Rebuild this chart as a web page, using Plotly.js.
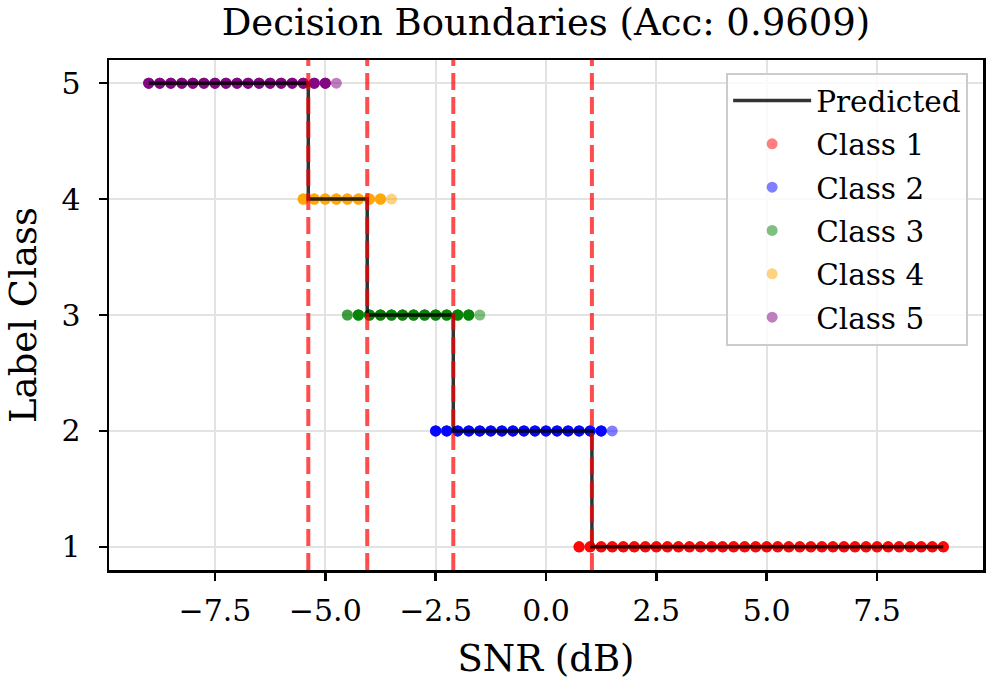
<!DOCTYPE html>
<html>
<head>
<meta charset="utf-8">
<script src="https://cdn.plot.ly/plotly-3.0.1.min.js"></script>
<style>
  html, body { margin: 0; padding: 0; background: #ffffff; }
  #chart { width: 990px; height: 690px; }
</style>
</head>
<body>
<div id="chart"></div>
<script>
// SNR grid (dB) for the samples of each true class, and how many samples sit at each SNR
const snrClass1 = [0.75, 1.0, 1.25, 1.5, 1.75, 2.0, 2.25, 2.5, 2.75, 3.0, 3.25, 3.5, 3.75, 4.0, 4.25, 4.5, 4.75,
                   5.0, 5.25, 5.5, 5.75, 6.0, 6.25, 6.5, 6.75, 7.0, 7.25, 7.5, 7.75, 8.0, 8.25, 8.5, 8.75, 9.0];
const countClass1 = [5, 5, 5, 5, 5, 5, 5, 5, 5, 5, 5, 5, 5, 5, 5, 5, 5,
                     5, 5, 5, 5, 5, 5, 5, 5, 5, 5, 5, 5, 5, 5, 5, 5, 5];

const snrClass2 = [-2.5, -2.25, -2.0, -1.75, -1.5, -1.25, -1.0, -0.75, -0.5, -0.25, 0.0, 0.25, 0.5, 0.75, 1.0, 1.25, 1.5];
const countClass2 = [5, 5, 5, 5, 5, 5, 5, 5, 5, 5, 5, 5, 5, 5, 5, 5, 1];

const snrClass3 = [-4.5, -4.25, -4.0, -3.75, -3.5, -3.25, -3.0, -2.75, -2.5, -2.25, -2.0, -1.75, -1.5];
const countClass3 = [2, 5, 5, 5, 5, 5, 5, 5, 5, 5, 5, 5, 1];

const snrClass4 = [-5.5, -5.25, -5.0, -4.75, -4.5, -4.25, -4.0, -3.75, -3.5];
const countClass4 = [5, 5, 5, 5, 5, 5, 5, 5, 1];

const snrClass5 = [-9.0, -8.75, -8.5, -8.25, -8.0, -7.75, -7.5, -7.25, -7.0, -6.75, -6.5, -6.25,
                   -6.0, -5.75, -5.5, -5.25, -5.0, -4.75];
const countClass5 = [5, 5, 5, 5, 5, 5, 5, 5, 5, 5, 5, 5, 5, 5, 5, 5, 5, 1];

// Learned SNR thresholds between neighbouring classes, and the predicted label on each side
const boundaries = [-5.385, -4.05, -2.10, 1.04];
const predictedLevels = [5, 4, 3, 2, 1];
const snrMin = -9.0;
const snrMax = 9.0;

const classNames = ['Class 1', 'Class 2', 'Class 3', 'Class 4', 'Class 5'];
const classLabels = [1, 2, 3, 4, 5];
const classColors = ['red', 'blue', 'green', 'orange', 'purple'];
const accuracy = 0.9609;

const xTickVals = [-7.5, -5.0, -2.5, 0.0, 2.5, 5.0, 7.5];
const yTickVals = [1, 2, 3, 4, 5];

const FONT = '"DejaVu Serif", "Liberation Serif", serif';

// one marker per sample; semi-transparent so stacked samples read darker
function expand(snr, counts) {
  const out = [];
  snr.forEach((v, i) => { for (let k = 0; k < counts[i]; k++) out.push(v); });
  return out;
}

const classSnr = [snrClass1, snrClass2, snrClass3, snrClass4, snrClass5];
const classCounts = [countClass1, countClass2, countClass3, countClass4, countClass5];

const traces = classSnr.map((snr, c) => {
  const xs = expand(snr, classCounts[c]);
  return {
    type: 'scatter',
    mode: 'markers',
    name: classNames[c],
    legendgroup: 'class' + classLabels[c],
    x: xs,
    y: xs.map(() => classLabels[c]),
    marker: { color: classColors[c], size: 11, opacity: 0.5, line: { width: 0 } },
    legendrank: 2 + c,
    hoverinfo: 'x+y+name'
  };
});

// predicted class as a step function of SNR
const stepX = [snrMin].concat(boundaries, [snrMax]);
const stepY = predictedLevels.concat([predictedLevels[predictedLevels.length - 1]]);
traces.push({
  type: 'scatter',
  mode: 'lines',
  name: 'Predicted',
  legendgroup: 'predicted',
  x: stepX,
  y: stepY,
  line: { color: 'rgba(0,0,0,0.8)', width: 3.5, shape: 'hv' },
  legendrank: 1
});

const shapes = boundaries.map(b => ({
  type: 'line',
  xref: 'x', yref: 'paper',
  x0: b, x1: b, y0: 0, y1: 1,
  line: { color: 'rgba(255,0,0,0.7)', width: 4, dash: '17px,7px' },
  layer: 'above'
}));

const layout = {
  width: 990,
  height: 690,
  margin: { l: 109, r: 7, t: 60, b: 120 },
  paper_bgcolor: '#ffffff',
  plot_bgcolor: '#ffffff',
  font: { family: FONT, color: '#000000', size: 30 },
  title: {
    text: 'Decision Boundaries (Acc: ' + accuracy.toFixed(4) + ')',
    font: { family: FONT, size: 37, color: '#000000' },
    x: 0.5, xref: 'paper', xanchor: 'center',
    y: 0.968, yref: 'container', yanchor: 'middle'
  },
  xaxis: {
    range: [-9.9, 9.9],
    tickvals: xTickVals,
    tickformat: '.1f',
    ticks: 'outside', ticklen: 8, tickwidth: 2.5, tickcolor: '#000000',
    tickfont: { family: FONT, size: 30 },
    ticklabelstandoff: 4,
    showgrid: true, gridcolor: '#e3e3e3', gridwidth: 2,
    zeroline: false,
    showline: true, linecolor: '#000000', linewidth: 2.5, mirror: true,
    title: { text: 'SNR (dB)', font: { family: FONT, size: 37 }, standoff: 19 }
  },
  yaxis: {
    range: [0.8, 5.2],
    tickvals: yTickVals,
    ticks: 'outside', ticklen: 8, tickwidth: 2.5, tickcolor: '#000000',
    tickfont: { family: FONT, size: 30 },
    ticklabelstandoff: 12,
    showgrid: true, gridcolor: '#e3e3e3', gridwidth: 2,
    zeroline: false,
    showline: true, linecolor: '#000000', linewidth: 2.5, mirror: true,
    title: { text: 'Label Class', font: { family: FONT, size: 37 }, standoff: 14 }
  },
  legend: {
    x: 0.983, y: 0.975, xanchor: 'right', yanchor: 'top',
    bgcolor: 'rgba(255,255,255,0.8)',
    bordercolor: '#cccccc', borderwidth: 2,
    font: { family: FONT, size: 29.5 },
    itemwidth: 78,
    traceorder: 'grouped',
    tracegroupgap: 2
  },
  shapes: shapes,
  showlegend: true
};

Plotly.newPlot('chart', traces, layout, { displayModeBar: false, staticPlot: true });
</script>
</body>
</html>
